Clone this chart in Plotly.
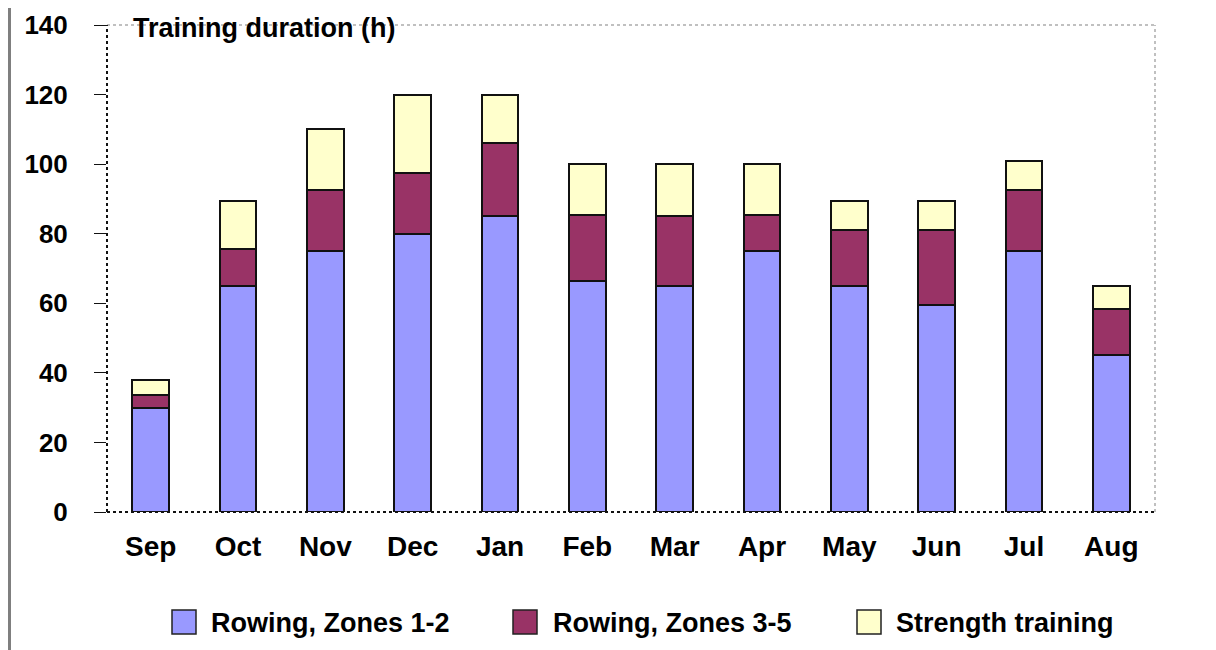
import plotly.graph_objects as go

months = ["Sep", "Oct", "Nov", "Dec", "Jan", "Feb", "Mar", "Apr", "May", "Jun", "Jul", "Aug"]
zones_1_2 = [30, 65, 75, 80, 85, 66.5, 65, 75, 65, 59.5, 75, 45]
zones_3_5 = [3.5, 10.5, 17.5, 17.5, 21, 19, 20, 10.5, 16, 21.5, 17.5, 13.5]
strength = [4.5, 14, 17.5, 22.5, 14, 14.5, 15, 14.5, 8.5, 8.5, 8.5, 6.5]
series_names = ["Rowing, Zones 1-2", "Rowing, Zones 3-5", "Strength training"]
series_colors = ["#9999FF", "#993366", "#FFFFCC"]
y_ticks = [0, 20, 40, 60, 80, 100, 120, 140]

W, H = 1216, 650
OFF = 8  # page body margin
L, R, T, B = 107, 1155, 25, 512  # plot area in page pixels
FONT = "Liberation Sans"

def px_x(x):
    return (x - L) / (R - L)

def px_y(y):
    return (B - y) / (B - T)

fig = go.Figure()
for name, vals, col in zip(series_names, [zones_1_2, zones_3_5, strength], series_colors):
    fig.add_trace(go.Bar(
        x=months, y=vals, name=name, showlegend=False,
        marker=dict(color=col, line=dict(color="#111111", width=2)),
    ))

shapes = [
    dict(type="line", xref="paper", yref="paper", x0=0, x1=1, y0=1, y1=1,
         line=dict(color="#c0c0c0", width=2, dash="dot")),
    dict(type="line", xref="paper", yref="paper", x0=1, x1=1, y0=0, y1=1,
         line=dict(color="#c0c0c0", width=2, dash="dot")),
    dict(type="line", xref="paper", yref="paper", x0=0, x1=0, y0=0, y1=1,
         line=dict(color="#111111", width=2, dash="dot")),
    dict(type="line", xref="paper", yref="paper", x0=0, x1=1, y0=0, y1=0,
         line=dict(color="#111111", width=2, dash="dot")),
    dict(type="line", xref="paper", yref="paper", x0=px_x(9.5), x1=px_x(9.5), y0=px_y(H + OFF), y1=px_y(OFF),
         line=dict(color="#7f7f7f", width=3)),
]

annotations = [
    dict(text="Training duration (h)", xref="paper", yref="paper",
         x=px_x(131), y=px_y(28), xanchor="left", yanchor="middle", showarrow=False,
         font=dict(family=FONT, size=27, color="black", weight="bold")),
]

leg_items = [(172, 209), (513, 551), (857, 894)]
for (sx, tx), name, col in zip(leg_items, series_names, series_colors):
    shapes.append(dict(type="rect", xref="paper", yref="paper",
                       x0=px_x(sx), x1=px_x(sx + 24), y0=px_y(634), y1=px_y(610),
                       fillcolor=col, line=dict(color="#222222", width=1.5)))
    annotations.append(dict(text=name, xref="paper", yref="paper",
                            x=px_x(tx), y=px_y(623), xanchor="left", yanchor="middle",
                            showarrow=False,
                            font=dict(family=FONT, size=27, color="black", weight="bold")))

fig.update_layout(
    width=W, height=H,
    margin=dict(l=L - OFF, r=W + OFF - R, t=T - OFF, b=H + OFF - B, pad=0),
    barmode="stack", bargap=0.58,
    plot_bgcolor="white", paper_bgcolor="white",
    showlegend=False,
    shapes=shapes, annotations=annotations,
    xaxis=dict(
        showgrid=False, showline=False, zeroline=False, ticks="", automargin=False,
        tickfont=dict(family=FONT, size=28, color="black", weight="bold"),
        ticklabelstandoff=15,
    ),
    yaxis=dict(
        range=[0, 140], tickvals=y_ticks, showgrid=False, showline=False, zeroline=False,
        ticks="outside", ticklen=12, tickcolor="#111111", tickwidth=1, automargin=False,
        tickfont=dict(family=FONT, size=26, color="black", weight="bold"),
        ticklabelstandoff=21,
    ),
)

fig.write_html("out.html")
